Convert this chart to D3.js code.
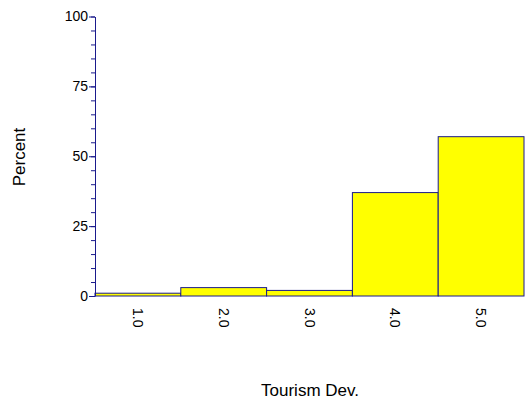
<!DOCTYPE html>
<html>
<head>
<meta charset="utf-8">
<script src="https://cdn.jsdelivr.net/npm/d3@7"></script>
<style>
  body { margin: 0; background: #fff; }
  svg text { font-family: Arial, "Liberation Sans", sans-serif; fill: #000; }
</style>
</head>
<body>
<svg id="chart"></svg>
<script>
// histogram data
const categories = ['1.0', '2.0', '3.0', '4.0', '5.0'];
const percents = [1, 3, 2, 37, 57];
const yTicks = [0, 25, 50, 75, 100];
const yMinorTicks = d3.range(0, 101, 5);

const width = 526, height = 400;
const margin = {top: 16.5, right: 2, bottom: 104, left: 95};
const innerW = width - margin.left - margin.right;
const innerH = height - margin.top - margin.bottom;
const navy = '#1a1a8c';

const svg = d3.select('#chart')
    .attr('width', width)
    .attr('height', height);

const chart = svg.append('g')
    .attr('transform', `translate(${margin.left},${margin.top})`);

const xScale = d3.scaleBand()
    .domain(categories)
    .range([0, innerW])
    .padding(0);

const yScale = d3.scaleLinear()
    .domain([0, 100])
    .range([innerH, 0]);

// bars
chart.selectAll('rect.bar')
    .data(percents)
  .join('rect')
    .attr('class', 'bar')
    .attr('x', (d, i) => xScale(categories[i]))
    .attr('y', d => yScale(d))
    .attr('width', xScale.bandwidth())
    .attr('height', d => yScale(0) - yScale(d))
    .attr('fill', '#ffff00')
    .attr('stroke', navy)
    .attr('stroke-width', 1);

// minor ticks
const yMinor = chart.append('g')
    .call(d3.axisLeft(yScale).tickValues(yMinorTicks).tickSize(4).tickFormat(''));
yMinor.select('.domain').remove();
yMinor.selectAll('line').attr('stroke', navy);

// major ticks + labels
const yAxisG = chart.append('g')
    .call(d3.axisLeft(yScale).tickValues(yTicks).tickSize(6).tickSizeOuter(0).tickPadding(1));
yAxisG.select('.domain').attr('stroke', navy);
yAxisG.selectAll('line').attr('stroke', navy);
yAxisG.selectAll('text')
    .style('font-size', '14px');

// x labels, rotated
const xAxisG = chart.append('g')
    .attr('transform', `translate(0,${innerH})`)
    .call(d3.axisBottom(xScale).tickSize(0).tickPadding(0));
xAxisG.select('.domain').remove();
xAxisG.selectAll('text')
    .style('font-size', '14px')
    .attr('transform', 'rotate(90)')
    .attr('x', 12)
    .attr('y', 0)
    .attr('dy', '0.35em')
    .style('text-anchor', 'start');

// axis titles
svg.append('text')
    .attr('transform', `translate(25,157) rotate(-90)`)
    .attr('text-anchor', 'middle')
    .style('font-size', '17px')
    .text('Percent');

svg.append('text')
    .attr('x', 310)
    .attr('y', 396)
    .attr('text-anchor', 'middle')
    .style('font-size', '17px')
    .text('Tourism Dev.');
</script>
</body>
</html>
